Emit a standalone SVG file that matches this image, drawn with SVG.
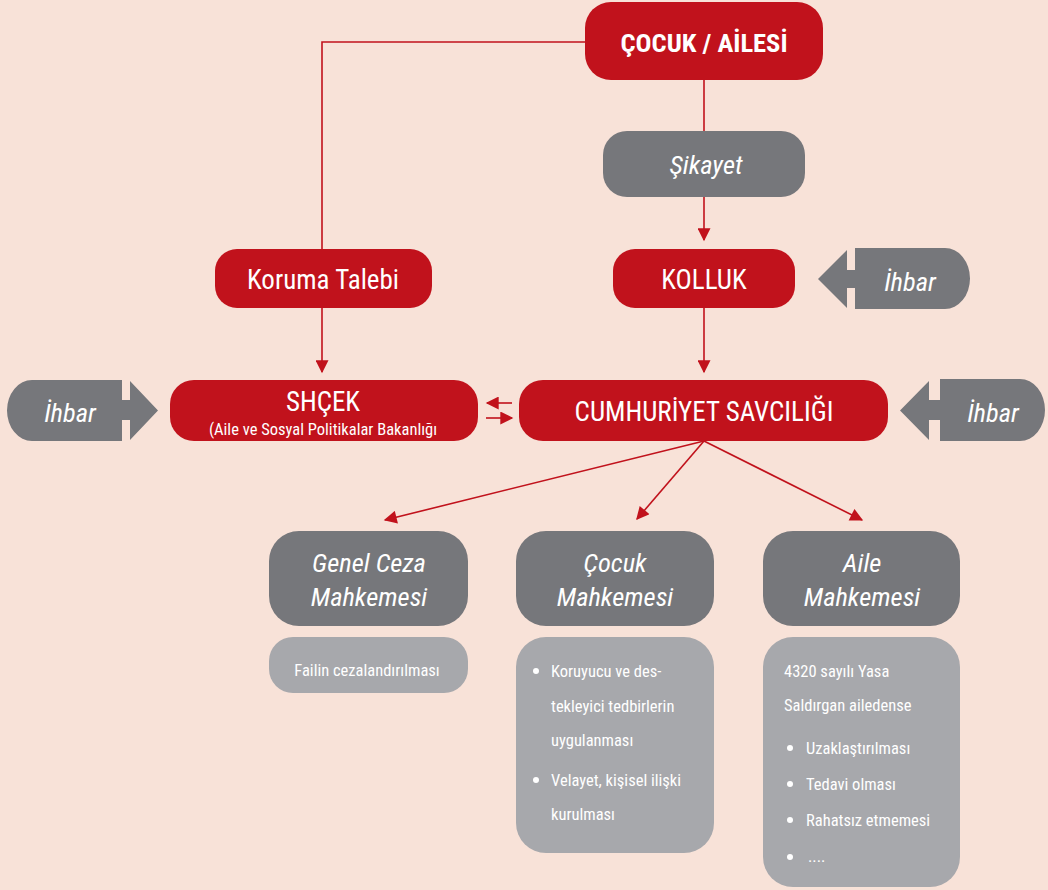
<svg xmlns="http://www.w3.org/2000/svg" width="1048" height="890" viewBox="0 0 1048 890">
<defs>
<style>
.bg{fill:#F8E2D8}
.red{fill:#C1121C}
.dg{fill:#76777B}
.lg{fill:#A7A8AC}
text{font-family:"Roboto Condensed","Liberation Sans Narrow","Arial Narrow",Roboto,sans-serif;fill:#fff;text-anchor:middle;font-weight:normal}
.t{font-size:27px}
.tb{font-size:26.5px;font-weight:bold}
.it{font-size:26.5px;font-style:italic}
.sm{font-size:16.5px}
.sl{font-size:16.5px;text-anchor:start}
.con{stroke:#C1121C;stroke-width:1.6;fill:none}
.dot{fill:#fff}
</style>
<marker id="ah" viewBox="0 0 10 10" refX="9" refY="5" markerWidth="15" markerHeight="13" markerUnits="userSpaceOnUse" orient="auto">
<path d="M0,0 L10,5 L0,10 z" fill="#C1121C"/>
</marker>
</defs>
<rect class="bg" x="0" y="0" width="1048" height="890"/>

<g id="connectors">
<path class="con" d="M585,42 H322 V249"/>
<path class="con" d="M322,308 V372" marker-end="url(#ah)"/>
<path class="con" d="M704,80 V131"/>
<path class="con" d="M704,197 V240" marker-end="url(#ah)"/>
<path class="con" d="M704,308 V372" marker-end="url(#ah)"/>
<path class="con" d="M512,403 H487" marker-end="url(#ah)"/>
<path class="con" d="M486,418 H512" marker-end="url(#ah)"/>
<path class="con" d="M704,441 L385,520" marker-end="url(#ah)"/>
<path class="con" d="M704,441 L637,519" marker-end="url(#ah)"/>
<path class="con" d="M704,441 L862,520" marker-end="url(#ah)"/>
</g>

<g id="cocuk-ailesi">
<rect class="red" x="585" y="2" width="238" height="78" rx="26"/>
<text class="tb" x="704" y="52">ÇOCUK / AİLESİ</text>
</g>

<g id="sikayet">
<rect class="dg" x="603" y="131" width="202" height="66" rx="24"/>
<text class="it" x="706" y="174">Şikayet</text>
</g>

<g id="koruma-talebi">
<rect class="red" x="215" y="249" width="217" height="59" rx="22"/>
<text class="t" x="323" y="289">Koruma Talebi</text>
</g>

<g id="kolluk">
<rect class="red" x="613" y="249" width="182" height="59" rx="22"/>
<text class="t" x="704" y="289">KOLLUK</text>
</g>

<g id="ihbar-kolluk">
<path class="dg" d="M818,279 L847,250 V270 H855 V248 H945 A25,30.5 0 0 1 970,278.5 A25,30.5 0 0 1 945,309 H855 V288 H847 V308 Z"/>
<text class="it" x="910" y="291">İhbar</text>
</g>

<g id="ihbar-shcek">
<path class="dg" d="M32,380 H122 V400 H130 V381 L158,410.5 L130,440 V420 H122 V441 H32 A25,30.5 0 0 1 7,410.5 A25,30.5 0 0 1 32,380 Z"/>
<text class="it" x="70" y="422">İhbar</text>
</g>

<g id="shcek">
<rect class="red" x="170" y="380" width="308" height="61" rx="24"/>
<text class="t" x="323" y="411">SHÇEK</text>
<text class="sm" x="323" y="435">(Aile ve Sosyal Politikalar Bakanlığı</text>
</g>

<g id="savcilik">
<rect class="red" x="519" y="380" width="369" height="61" rx="24"/>
<text class="t" x="704" y="421">CUMHURİYET SAVCILIĞI</text>
</g>

<g id="ihbar-savcilik">
<path class="dg" d="M900,410.5 L929,381 V400 H940 V379 H1020 A25,31 0 0 1 1045,410 A25,31 0 0 1 1020,441 H940 V420 H929 V440 Z"/>
<text class="it" x="993" y="422">İhbar</text>
</g>

<g id="genel-ceza">
<rect class="dg" x="269" y="531" width="199" height="95" rx="30"/>
<text class="it" x="369" y="572">Genel Ceza</text>
<text class="it" x="369" y="606">Mahkemesi</text>
</g>

<g id="cocuk-mahkemesi">
<rect class="dg" x="516" y="531" width="198" height="95" rx="30"/>
<text class="it" x="615" y="572">Çocuk</text>
<text class="it" x="615" y="606">Mahkemesi</text>
</g>

<g id="aile-mahkemesi">
<rect class="dg" x="763" y="531" width="197" height="95" rx="30"/>
<text class="it" x="862" y="572">Aile</text>
<text class="it" x="862" y="606">Mahkemesi</text>
</g>

<g id="failin">
<rect class="lg" x="269" y="637" width="199" height="56" rx="24"/>
<text class="sm" x="367" y="676">Failin cezalandırılması</text>
</g>

<g id="cocuk-tedbir">
<rect class="lg" x="516" y="637" width="198" height="216" rx="30"/>
<circle class="dot" cx="536" cy="671" r="3"/>
<text class="sl" x="551" y="677">Koruyucu ve des-</text>
<text class="sl" x="551" y="712">tekleyici tedbirlerin</text>
<text class="sl" x="551" y="746">uygulanması</text>
<circle class="dot" cx="536" cy="780" r="3"/>
<text class="sl" x="551" y="786">Velayet, kişisel ilişki</text>
<text class="sl" x="551" y="820">kurulması</text>
</g>

<g id="aile-tedbir">
<rect class="lg" x="763" y="637" width="197" height="250" rx="30"/>
<text class="sl" x="784" y="677">4320 sayılı Yasa</text>
<text class="sl" x="784" y="711">Saldırgan ailedense</text>
<circle class="dot" cx="790" cy="748" r="3"/>
<text class="sl" x="806" y="754">Uzaklaştırılması</text>
<circle class="dot" cx="790" cy="784" r="3"/>
<text class="sl" x="806" y="790">Tedavi olması</text>
<circle class="dot" cx="790" cy="820" r="3"/>
<text class="sl" x="806" y="826">Rahatsız etmemesi</text>
<circle class="dot" cx="790" cy="857" r="3"/>
<text class="sl" x="808" y="862">....</text>
</g>
</svg>
